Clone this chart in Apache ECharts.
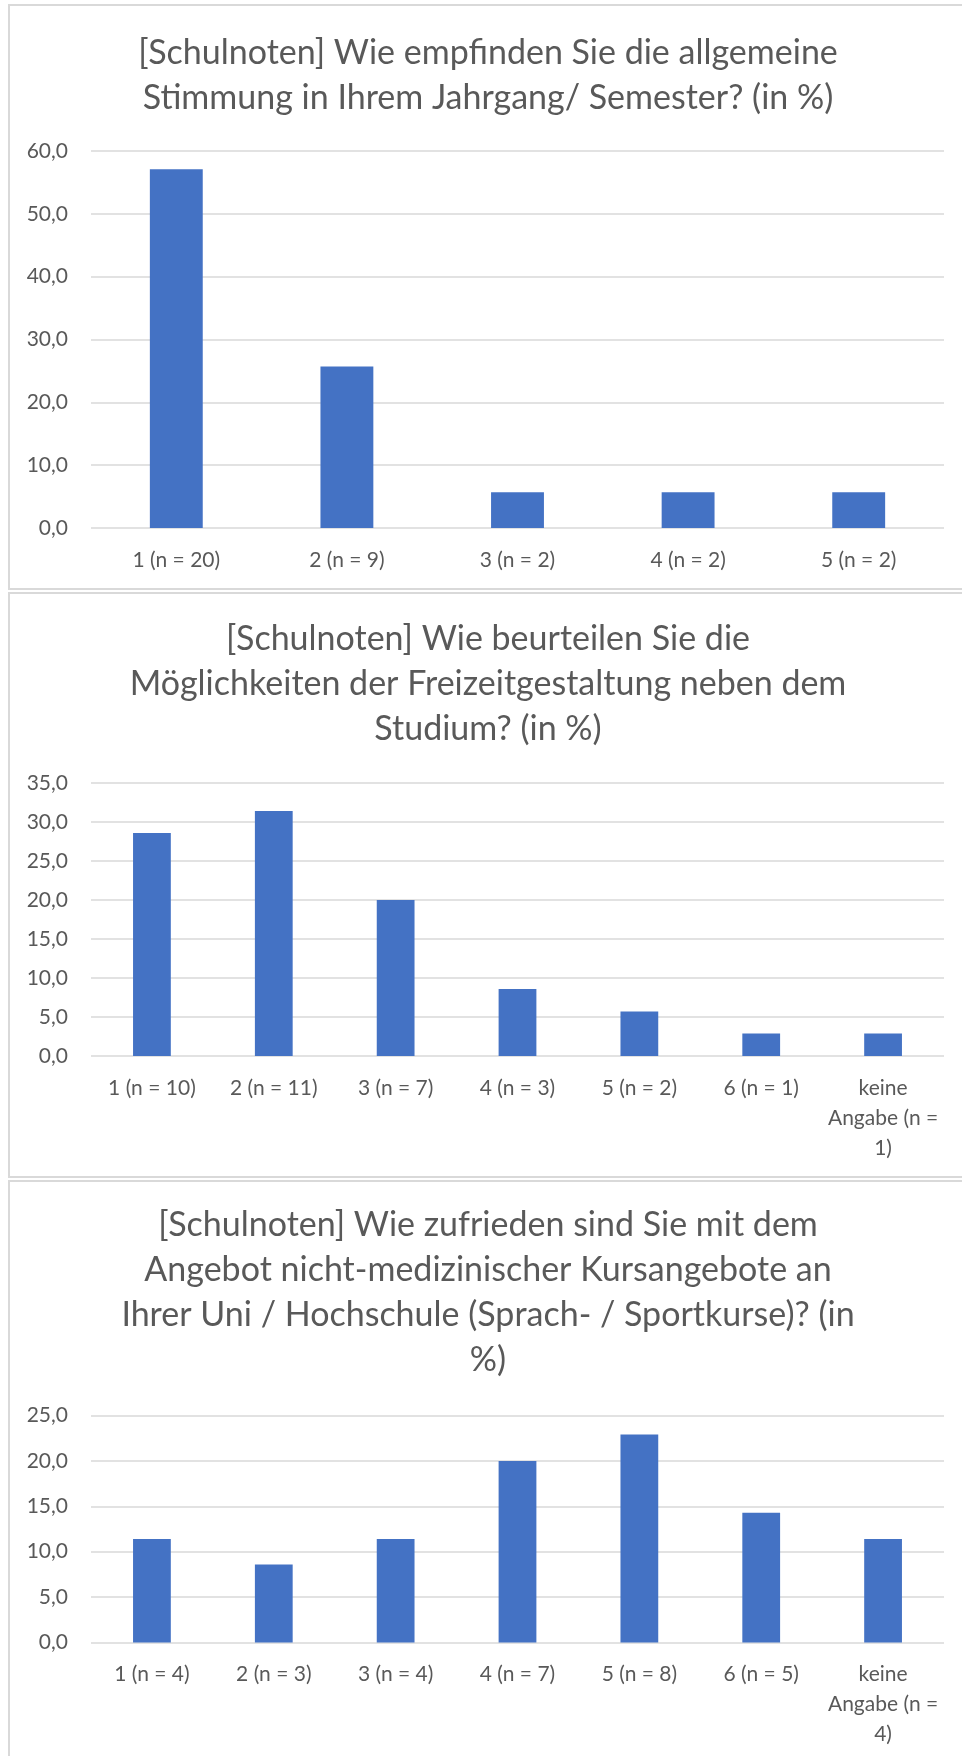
<!DOCTYPE html>
<html>
<head>
<meta charset="utf-8">
<script src="https://cdn.jsdelivr.net/npm/echarts@6/dist/echarts.min.js"></script>
<style>
  html, body { margin: 0; padding: 0; background: #fff; overflow: hidden; }
  #c { width: 962px; height: 1756px; }
</style>
</head>
<body>
<div id="c"></div>
<script>
// Survey results, shares in percent (n = 35 respondents per question)
const stimmungCategories = ['1 (n = 20)', '2 (n = 9)', '3 (n = 2)', '4 (n = 2)', '5 (n = 2)'];
const stimmungValues = [57.1, 25.7, 5.7, 5.7, 5.7];

const freizeitCategories = ['1 (n = 10)', '2 (n = 11)', '3 (n = 7)', '4 (n = 3)', '5 (n = 2)', '6 (n = 1)', 'keine\nAngabe (n =\n1)'];
const freizeitValues = [28.6, 31.4, 20.0, 8.6, 5.7, 2.9, 2.9];

const kursCategories = ['1 (n = 4)', '2 (n = 3)', '3 (n = 4)', '4 (n = 7)', '5 (n = 8)', '6 (n = 5)', 'keine\nAngabe (n =\n4)'];
const kursValues = [11.4, 8.6, 11.4, 20.0, 22.9, 14.3, 11.4];

const stimmungTitle = ['[Schulnoten] Wie empfinden Sie die allgemeine', 'Stimmung in Ihrem Jahrgang/ Semester? (in %)'];
const freizeitTitle = ['[Schulnoten] Wie beurteilen Sie die', 'Möglichkeiten der Freizeitgestaltung neben dem', 'Studium? (in %)'];
const kursTitle = ['[Schulnoten] Wie zufrieden sind Sie mit dem', 'Angebot nicht-medizinischer Kursangebote an', 'Ihrer Uni / Hochschule (Sprach- / Sportkurse)? (in', '%)'];

const yMax = [60, 35, 25];
const yStep = [10, 5, 5];

const FONT = 'Lato, "Open Sans", sans-serif';
const TEXT = '#595959';
const GRID = '#d9d9d9';
const BAR = '#4472c4';

// panel frames and plot areas
const panels = [
  { top: 5,    height: 584, gridTop: 151,    gridHeight: 377, titleY: 53,   cats: stimmungCategories, vals: stimmungValues, title: stimmungTitle },
  { top: 593,  height: 584, gridTop: 783,    gridHeight: 273, titleY: 639,  cats: freizeitCategories, vals: freizeitValues, title: freizeitTitle },
  { top: 1181, height: 620, gridTop: 1415.5, gridHeight: 227, titleY: 1225, cats: kursCategories, vals: kursValues, title: kursTitle }
];

const fmt = v => v.toFixed(1).replace('.', ',');

const graphic = [];
panels.forEach(p => {
  graphic.push({
    type: 'rect', silent: true, z: -1,
    shape: { x: 9, y: p.top, width: 990, height: p.height },
    style: { fill: 'none', stroke: GRID, lineWidth: 2 }
  });
  p.title.forEach((line, i) => {
    graphic.push({
      type: 'text', silent: true,
      x: 488, y: p.titleY + i * 45,
      style: { text: line, fill: TEXT, font: '34px ' + FONT, align: 'center', verticalAlign: 'middle' }
    });
  });
});

const option = {
  animation: false,
  backgroundColor: '#fff',
  graphic: graphic,
  grid: panels.map(p => ({ left: 91, right: 18, top: p.gridTop, height: p.gridHeight, containLabel: false })),
  xAxis: panels.map((p, i) => ({
    type: 'category', gridIndex: i, data: p.cats,
    axisLine: { show: false }, axisTick: { show: false },
    axisLabel: { color: TEXT, fontFamily: FONT, fontSize: 21, lineHeight: 30, margin: 17, interval: 0 }
  })),
  yAxis: panels.map((p, i) => ({
    type: 'value', gridIndex: i, min: 0, max: yMax[i], interval: yStep[i],
    axisLine: { show: false }, axisTick: { show: false },
    splitLine: { lineStyle: { color: GRID, width: 1.5 } },
    axisLabel: { color: TEXT, fontFamily: FONT, fontSize: 21, margin: 23, formatter: fmt }
  })),
  series: panels.map((p, i) => ({
    type: 'bar', xAxisIndex: i, yAxisIndex: i, data: p.vals,
    barWidth: '31%', itemStyle: { color: BAR }
  }))
};

const chart = echarts.init(document.getElementById('c'), null, { renderer: 'canvas' });
chart.setOption(option);
</script>
</body>
</html>
